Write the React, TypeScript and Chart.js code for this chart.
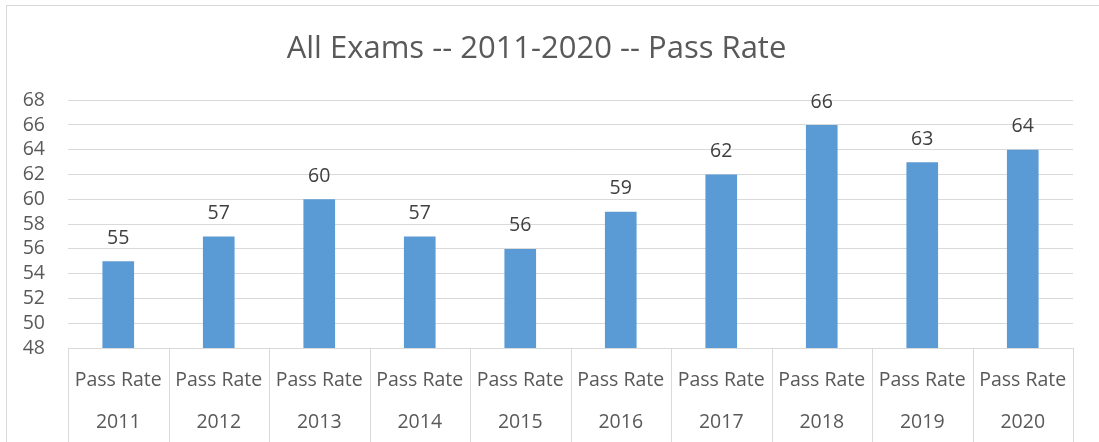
import React, { useEffect, useRef } from "react";
import { Chart, registerables } from "chart.js";

Chart.register(...registerables);

const years = ["2011", "2012", "2013", "2014", "2015", "2016", "2017", "2018", "2019", "2020"];
const seriesName = "Pass Rate";
const passRates = [55, 57, 60, 57, 56, 59, 62, 66, 63, 64];
const title = "All Exams -- 2011-2020 -- Pass Rate";
const yMin = 48;
const yMax = 68;
const yStep = 2;

const FONT = "'Open Sans', sans-serif";
const TEXT = "#595959";
const GRID = "#D9D9D9";
const FS = 19.5;

const valueLabels = {
  id: "valueLabels",
  afterDatasetsDraw(chart: any) {
    const ctx = chart.ctx;
    const meta = chart.getDatasetMeta(0);
    ctx.save();
    ctx.font = `${FS}px ${FONT}`;
    ctx.fillStyle = "#404040";
    ctx.textAlign = "center";
    ctx.textBaseline = "middle";
    meta.data.forEach((bar: any, i: number) => {
      ctx.fillText(String(passRates[i]), bar.x, bar.y - 23);
    });
    ctx.restore();
  },
};

const categorySeparators = {
  id: "categorySeparators",
  afterDraw(chart: any) {
    const x = chart.scales.x;
    const ctx = chart.ctx;
    const n = years.length;
    const step = (x.right - x.left) / n;
    ctx.save();
    ctx.strokeStyle = GRID;
    ctx.lineWidth = 1;
    for (let i = 0; i <= n; i++) {
      const px = Math.round(x.left + i * step) + 0.5;
      ctx.beginPath();
      ctx.moveTo(px, chart.chartArea.bottom);
      ctx.lineTo(px, chart.height);
      ctx.stroke();
    }
    ctx.restore();
  },
};

export default function App() {
  const ref = useRef<HTMLCanvasElement | null>(null);
  useEffect(() => {
    if (!ref.current) return;
    const chart = new Chart(ref.current, {
      type: "bar",
      data: {
        labels: years.map((y) => [seriesName, y]),
        datasets: [
          {
            label: seriesName,
            data: passRates,
            backgroundColor: "#5B9BD5",
            borderWidth: 0,
            categoryPercentage: 1,
            barPercentage: 0.315,
          },
        ],
      },
      options: {
        animation: false,
        responsive: false,
        maintainAspectRatio: false,
        layout: { padding: { left: 0, right: 26, top: 0, bottom: 0 } },
        plugins: {
          legend: { display: false },
          tooltip: { enabled: false },
          title: {
            display: true,
            text: title,
            color: TEXT,
            font: { family: FONT, size: 31, weight: "normal" },
            padding: { top: 31, bottom: 32 },
          },
        },
        scales: {
          x: {
            grid: { display: false },
            border: { display: true, color: GRID },
            ticks: {
              color: TEXT,
              font: { family: FONT, size: FS, lineHeight: 2.2 },
              padding: 2.5,
              maxRotation: 0,
              autoSkip: false,
            },
            afterFit(scale: any) {
              scale.height = 94;
            },
          },
          y: {
            min: yMin,
            max: yMax,
            grid: { color: GRID, drawTicks: false },
            border: { display: false },
            ticks: {
              stepSize: yStep,
              autoSkip: false,
              color: TEXT,
              font: { family: FONT, size: FS },
              padding: 23,
            },
            afterFit(scale: any) {
              scale.width = 68;
            },
          },
        },
      },
      plugins: [valueLabels, categorySeparators],
    });
    return () => chart.destroy();
  }, []);

  return (
    <div style={{ position: "fixed", left: 0, top: 0, width: 1099, height: 442, background: "#fff" }}>
      <div
        style={{
          position: "absolute",
          left: 6,
          top: 5,
          right: -10,
          bottom: -10,
          borderTop: `1px solid ${GRID}`,
          borderLeft: `1px solid ${GRID}`,
        }}
      />
      <canvas ref={ref} width={1099} height={442} style={{ position: "absolute", left: 0, top: 0 }} />
    </div>
  );
}
